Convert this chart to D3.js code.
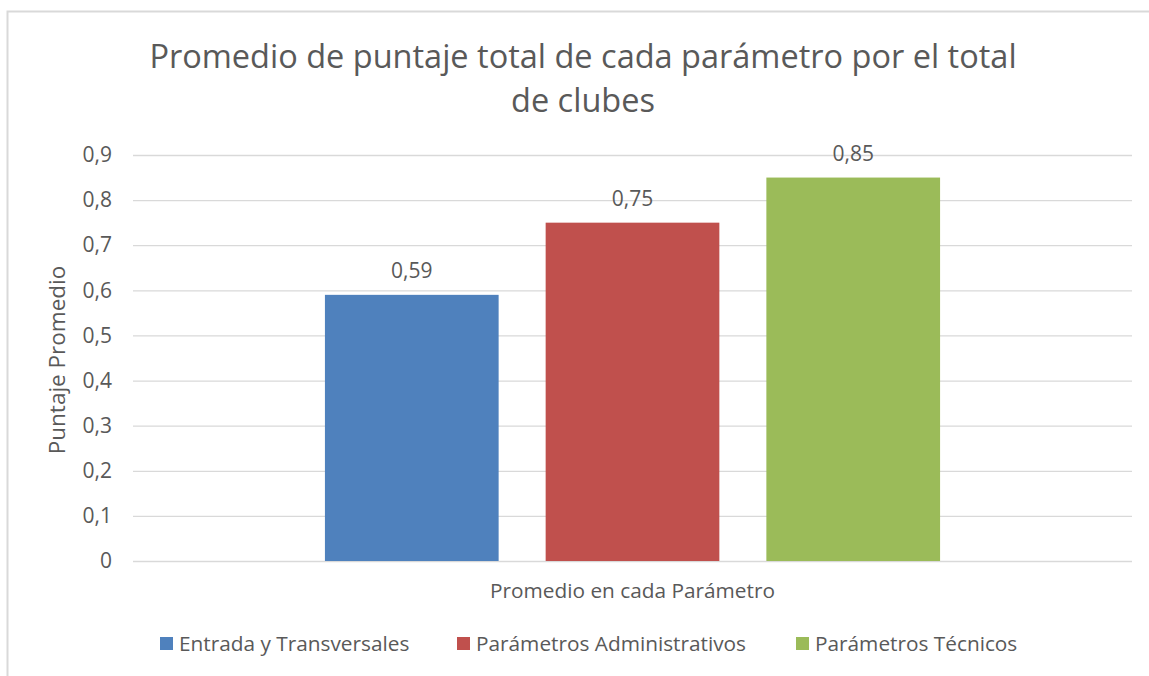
<!DOCTYPE html>
<html>
<head>
<meta charset="utf-8">
<script src="https://cdn.jsdelivr.net/npm/d3@7"></script>
<style>
	body { margin: 0; background: #fff; }
	svg text { font-family: 'Open Sans', sans-serif; fill: #595959; }
</style>
</head>
<body>
<svg id="chart" width="1149" height="676"></svg>
<script>
// datos
const categories = ['Promedio en cada Parámetro']
const seriesNames = ['Entrada y Transversales', 'Parámetros Administrativos', 'Parámetros Técnicos']
const seriesValues = [0.59, 0.75, 0.85]
const yTicks = [0, 0.1, 0.2, 0.3, 0.4, 0.5, 0.6, 0.7, 0.8, 0.9]
const colors = ['#4F81BD', '#C0504D', '#9BBB59']

const svg = d3.select('#chart')
const padding = { top: 155, bottom: 115, left: 133, right: 17 }
const width = 1149, height = 676

// marco del grafico
svg.append('rect')
	.attr('x', 7.5).attr('y', 11.5)
	.attr('width', 1160).attr('height', 700)
	.attr('fill', '#fff').attr('stroke', '#D9D9D9').attr('stroke-width', 2)

// titulo
const title = svg.append('text')
	.attr('text-anchor', 'middle')
	.style('font-size', '32.5px')
title.append('tspan').attr('x', 583).attr('y', 68).text('Promedio de puntaje total de cada parámetro por el total')
title.append('tspan').attr('x', 583).attr('y', 112).text('de clubes')

let scaleY = d3.scaleLinear()
	.domain([0, 0.9])
	.range([height - padding.bottom, padding.top])
let scaleX0 = d3.scaleBand()
	.domain(categories)
	.range([padding.left, width - padding.right])
	.paddingInner(0)
	.paddingOuter(0.312)
let scaleX1 = d3.scaleBand()
	.domain(seriesNames)
	.range([0, scaleX0.bandwidth()])
	.paddingInner(0.213)

const fmt = d => d === 0 ? '0' : d3.format('.1f')(d).replace('.', ',')
const fmt2 = d => d3.format('.2f')(d).replace('.', ',')

// eje y con lineas de cuadricula
const yAxis = svg.append('g')
	.attr('transform', `translate(${padding.left},0)`)
	.call(d3.axisLeft(scaleY).tickValues(yTicks).tickFormat(fmt).tickSize(-(width - padding.left - padding.right)).tickPadding(21))
yAxis.select('.domain').remove()
yAxis.selectAll('.tick line').attr('stroke', '#D9D9D9').attr('stroke-width', 1.3)
yAxis.selectAll('.tick text').style('font-size', '21px').style('font-family', "'Open Sans', sans-serif").attr('fill', '#595959')

// barras
const group = svg.append('g')
	.attr('transform', `translate(${scaleX0(categories[0])},0)`)
group.selectAll('rect')
	.data(seriesValues)
	.enter()
	.append('rect')
	.attr('x', (d, i) => scaleX1(seriesNames[i]))
	.attr('y', d => scaleY(d))
	.attr('width', scaleX1.bandwidth())
	.attr('height', d => scaleY(0) - scaleY(d))
	.attr('fill', (d, i) => colors[i])

// etiquetas de datos
group.selectAll('.label')
	.data(seriesValues)
	.enter()
	.append('text')
	.attr('class', 'label')
	.attr('text-anchor', 'middle')
	.attr('x', (d, i) => scaleX1(seriesNames[i]) + scaleX1.bandwidth() / 2)
	.attr('y', d => scaleY(d) - 17)
	.style('font-size', '21px')
	.text(d => fmt2(d))

// titulo eje x
svg.append('text')
	.attr('text-anchor', 'middle')
	.attr('x', scaleX0(categories[0]) + scaleX0.bandwidth() / 2)
	.attr('y', 598)
	.style('font-size', '20.8px')
	.text(categories[0])

// titulo eje y
svg.append('text')
	.attr('text-anchor', 'middle')
	.attr('transform', 'translate(65,360) rotate(-90)')
	.style('font-size', '22.5px')
	.text('Puntaje Promedio')

// leyenda
const legendX = [160, 457, 796]
const legend = svg.append('g')
seriesNames.forEach((name, i) => {
	legend.append('rect')
		.attr('x', legendX[i]).attr('y', 637)
		.attr('width', 13).attr('height', 13)
		.attr('fill', colors[i])
	legend.append('text')
		.attr('x', legendX[i] + 19).attr('y', 651)
		.style('font-size', '20.8px')
		.text(name)
})
</script>
</body>
</html>
